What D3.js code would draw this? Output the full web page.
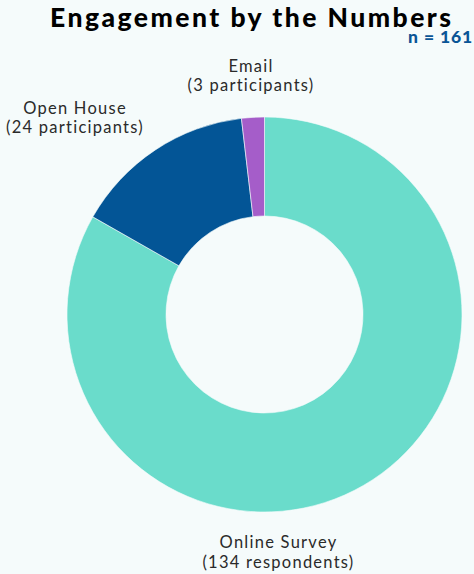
<!DOCTYPE html>
<html>
<head>
<meta charset="utf-8">
<script src="https://cdn.jsdelivr.net/npm/d3@7"></script>
<style>
  html, body { margin: 0; padding: 0; background: #f5fbfb; }
  svg { display: block; }
</style>
</head>
<body>
<script>
const categories = ["Online Survey", "Open House", "Email"];
const values = [134, 24, 3];
const unitLabels = ["respondents", "participants", "participants"];
const colors = ["#6adccb", "#035596", "#a55dc9"];
const titleText = "Engagement by the Numbers";
const totalLabel = "n = " + d3.sum(values);

const W = 474, H = 574;
const cx = 264.5, cy = 314.5, outerR = 197.5, innerR = 98.5;

const svg = d3.select("body").append("svg").attr("width", W).attr("height", H);
svg.append("rect").attr("width", W).attr("height", H).attr("fill", "#f5fbfb");

svg.append("text")
  .attr("x", 50).attr("y", 26.5)
  .attr("font-family", "Lato, sans-serif")
  .attr("font-weight", 900)
  .attr("font-size", 26.5)
  .attr("textLength", 401)
  .attr("lengthAdjust", "spacing")
  .attr("fill", "#000")
  .text(titleText);

svg.append("text")
  .attr("x", 408).attr("y", 42.5)
  .attr("font-family", "Lato, sans-serif")
  .attr("font-weight", 900)
  .attr("font-size", 17.5)
  .attr("letter-spacing", 0.9)
  .attr("fill", "#0a5596")
  .text(totalLabel);

const data = categories.map((c, i) => ({ cat: c, value: values[i], unit: unitLabels[i], color: colors[i] }));
const pie = d3.pie().sort(null).value(d => d.value);
const arc = d3.arc().innerRadius(innerR).outerRadius(outerR);
const arcs = pie(data);

const g = svg.append("g").attr("transform", `translate(${cx},${cy})`);
g.selectAll("path").data(arcs).enter().append("path")
  .attr("d", arc)
  .attr("fill", d => d.data.color)
  .attr("stroke", "#f5fbfb")
  .attr("stroke-width", 0.6);

// label anchor positions (layout), keyed by category
const labelPos = {
  "Online Survey": [278.5, 548],
  "Open House": [75, 113.5],
  "Email": [251, 71.5]
};
const lab = svg.append("g")
  .attr("font-family", "Lato, sans-serif")
  .attr("font-size", 16.5)
  .attr("letter-spacing", 1.25)
  .attr("fill", "#2a2a2a")
  .attr("text-anchor", "middle");
arcs.forEach(a => {
  const p = labelPos[a.data.cat];
  lab.append("text").attr("x", p[0]).attr("y", p[1]).text(a.data.cat);
  lab.append("text").attr("x", p[0]).attr("y", p[1] + 19.8).text(`(${a.data.value} ${a.data.unit})`);
});
</script>
</body>
</html>
